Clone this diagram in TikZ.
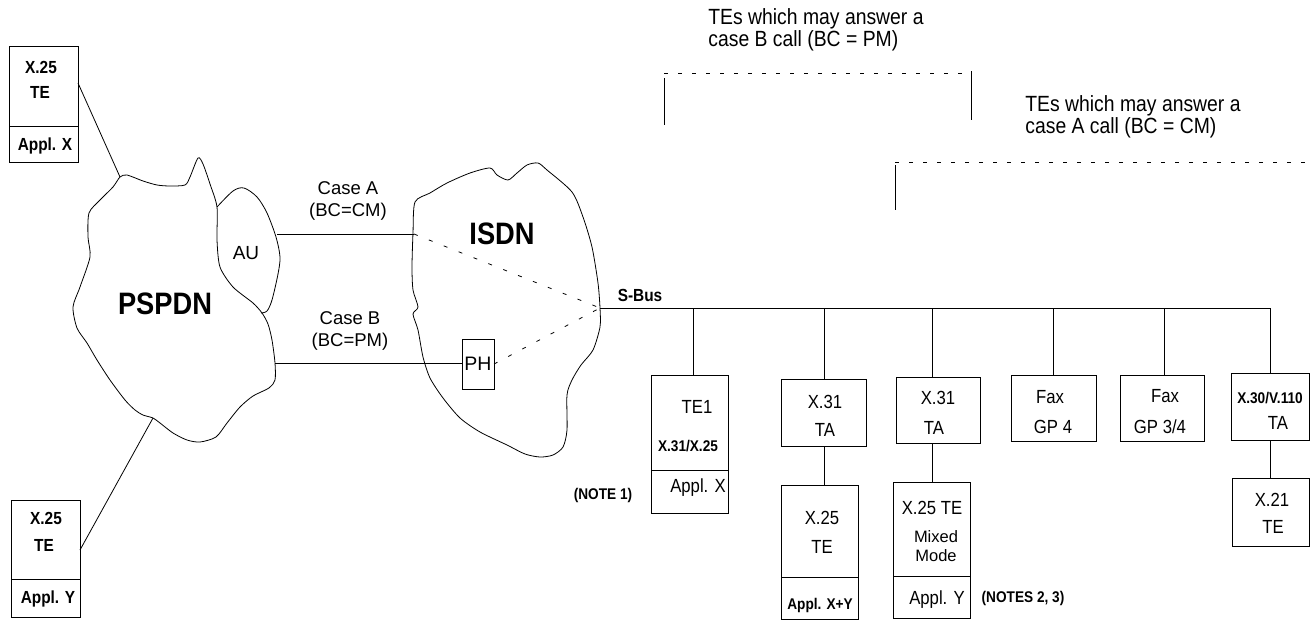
\documentclass[tikz,border=0pt]{standalone}
\usepackage{fontspec}
\setmainfont{Liberation Sans}
\newfontfamily\cf[FakeStretch=0.88]{Liberation Sans}
\begin{document}
\begin{tikzpicture}[x=1pt,y=-1pt,line width=0.8pt,
  box/.style={draw,inner sep=0pt,outer sep=0pt},
  txt/.style={inner sep=0pt,font=\cf\fontsize{19}{22}\selectfont},
  ttl/.style={inner sep=0pt,anchor=west,font=\cf\fontsize{22}{25}\selectfont},
  lbl/.style={inner sep=0pt,font=\fontsize{18.5}{21}\selectfont},
  bsm/.style={inner sep=0pt,font=\cf\bfseries\fontsize{15.5}{18}\selectfont},
  bmd/.style={inner sep=0pt,font=\cf\bfseries\fontsize{17.5}{20}\selectfont},
  big/.style={inner sep=0pt,font=\cf\bfseries\fontsize{31}{35}\selectfont},
  dots/.style={dash pattern=on 4pt off 12pt},
  bdash/.style={dash pattern=on 4pt off 10pt}]
\useasboundingbox (0,0) rectangle (1310,619);

% ---------- PSPDN cloud ----------
\draw plot[smooth cycle,tension=0.45] coordinates {
 (120,177) (127,175) (143,181) (157,185) (170,186) (185,185) (190,177) (198,158)
 (203,164) (210,184) (217,207) (217,240) (220,267) (233,287) (253,303) (262,313)
 (268,324) (272,340) (275,363) (275,380) (269,388) (253,396) (240,407) (227,423)
 (216,437) (200,442) (187,440) (173,433) (160,423) (153,418) (143,415) (135,410)
 (125,400) (110,380) (97,360) (87,343) (77,328) (73,307) (80,287) (90,257)
 (88,237) (89,213) (100,200) (113,187)};
% AU region
\draw plot[smooth,tension=0.5] coordinates {
 (217,207) (233,191) (244,188) (257,197) (267,213) (276,237) (280,257) (278,274)
 (272,300) (267,311) (261,313)};
\coordinate (pTop) at (120,177);
\coordinate (pBot) at (153,418);
\coordinate (auR) at (277,234);
\coordinate (pB) at (275,363);
\node[inner sep=0pt,font=\fontsize{19}{22}\selectfont] (au) at (246,253) {AU};
\node[big] (pspdn) at (165,304) {PSPDN};

% ---------- ISDN cloud ----------
\draw plot[smooth cycle,tension=0.45] coordinates {
 (415,202) (430,193) (447,183) (470,173) (490,168) (497,175) (508,180) (517,173)
 (527,165) (538,163) (547,170) (572,192) (583,217) (592,247) (598,283) (600,308)
 (600,327) (593,350) (581,365) (572,380) (567,395) (567,430) (563,447) (553,455)
 (540,457) (525,454) (507,445) (480,432) (460,418) (443,398) (430,378) (423,357)
 (418,330) (413,314) (418,307) (413,290) (412,267) (413,233)};
\coordinate (iA) at (414,234);
\coordinate (sbus) at (600,308);
\node[big] (isdn) at (502,234) {ISDN};
\node[box,minimum width=32pt,minimum height=50pt] (ph) at (478,364) {};
\node[inner sep=0pt,font=\fontsize{19.5}{22}\selectfont] at (ph.center) {PH};

% case lines
\draw (auR) -- (iA);
\draw (pB) -- (pB -| ph.west);
\node[lbl] (caseA) at (348,188) {Case A};
\node[lbl] at (348,212) {(BC=CM)};
\node[lbl] (caseB) at (350,318) {Case B};
\node[lbl] at (350,342) {(BC=PM)};
\draw[dots] (iA) -- (sbus);
\draw[dots] (ph.east) -- (sbus);

% ---------- left terminals ----------
\node[box,minimum width=69pt,minimum height=116pt] (tl) at (43.5,104) {};
\draw (tl.west |- 0,126) -- (tl.east |- 0,126);
\node[bmd] at (41,67) {X.25};
\node[bmd] at (40,92) {TE};
\node[bmd] at (45,146) {Appl. X};
\draw (tl.east |- 0,83) -- (pTop);

\node[box,minimum width=69pt,minimum height=117pt] (bl) at (45.5,558.5) {};
\draw (bl.west |- 0,579) -- (bl.east |- 0,579);
\node[bmd] at (46,518) {X.25};
\node[bmd] at (44,545) {TE};
\node[bmd] at (48,599) {Appl. Y};
\draw (bl.east |- 0,550) -- (pBot);

% ---------- S-Bus ----------
\coordinate (b1) at (693,308);
\coordinate (b2) at (824,308);
\coordinate (b3) at (932,308);
\coordinate (b4) at (1053,308);
\coordinate (b5) at (1164,308);
\coordinate (b6) at (1270,308);
\draw (sbus) -- (b6);
\node[bmd] (sbl) at (640,295) {S-Bus};

% TE1
\node[box,minimum width=77pt,minimum height=138pt] (te1) at (689.5,444) {};
\draw (te1.west |- 0,470) -- (te1.east |- 0,470);
\node[txt] at (697,407) {TE1};
\node[bsm] at (688,446) {X.31/X.25};
\node[txt] at (698,488) {Appl. X};
\node[bsm] at (603,495) {(NOTE 1)};
\draw (b1) -- (b1 |- te1.north);

% X.31 TA 1 + X.25 TE
\node[box,minimum width=85pt,minimum height=67pt] (ta1) at (823.5,412.5) {};
\node[txt] at (825,402) {X.31};
\node[txt] at (825,430) {TA};
\draw (b2) -- (b2 |- ta1.north);
\node[box,minimum width=77pt,minimum height=134pt] (x25) at (819.5,552) {};
\draw (x25.west |- 0,577) -- (x25.east |- 0,577);
\node[txt] at (822,518) {X.25};
\node[txt] at (822,547) {TE};
\node[bsm] at (820,605) {Appl. X+Y};
\draw (ta1.south -| b2) -- (x25.north -| b2);

% X.31 TA 2 + X.25 TE mixed
\node[box,minimum width=84pt,minimum height=66pt] (ta2) at (938,410) {};
\node[txt] at (938,398) {X.31};
\node[txt] at (934,428) {TA};
\draw (b3) -- (b3 |- ta2.north);
\node[box,minimum width=77pt,minimum height=136pt] (mx) at (931.5,550) {};
\draw (mx.west |- 0,576) -- (mx.east |- 0,576);
\node[txt] at (932,508) {X.25 TE};
\node[inner sep=0pt,font=\fontsize{16.5}{19}\selectfont,align=center] at (936,546) {Mixed\\Mode};
\node[txt] at (937,600) {Appl. Y};
\node[bsm] at (1023,598) {(NOTES 2, 3)};
\draw (ta2.south -| b3) -- (mx.north -| b3);

% Fax GP 4
\node[box,minimum width=85pt,minimum height=66pt] (fax4) at (1053.5,408) {};
\node[txt] at (1050,397) {Fax};
\node[txt] at (1053,427) {GP 4};
\draw (b4) -- (b4 |- fax4.north);

% Fax GP 3/4
\node[box,minimum width=84pt,minimum height=66pt] (fax34) at (1162,408) {};
\node[txt] at (1165,396) {Fax};
\node[txt] at (1160,427) {GP 3/4};
\draw (b5) -- (b5 |- fax34.north);

% X.30/V.110 TA + X.21 TE
\node[box,minimum width=78pt,minimum height=67pt] (ta3) at (1270,406.5) {};
\node[bsm] at (1270,398) {X.30/V.110};
\node[txt] at (1278,423) {TA};
\draw (b6) -- (b6 |- ta3.north);
\node[box,minimum width=77pt,minimum height=68pt] (x21) at (1270.5,512) {};
\node[txt] at (1272,500) {X.21};
\node[txt] at (1273,527) {TE};
\draw (ta3.south -| b6) -- (x21.north -| b6);

% ---------- annotations ----------
\node[ttl] (tB1) at (708,19) {TEs which may answer a};
\node[ttl] (tB2) at (708,41) {case B call (BC = PM)};
\coordinate (bl1) at (664,73);
\coordinate (br1) at (971,73);
\draw[bdash] (bl1) -- (br1);
\draw (664,78) -- (664,125);
\draw (971,71) -- (971,120);

\node[ttl] (tA1) at (1025,106) {TEs which may answer a};
\node[ttl] (tA2) at (1025,128) {case A call (BC = CM)};
\coordinate (bl2) at (895,162);
\coordinate (br2) at (1310,162);
\draw[bdash] (bl2) -- (br2);
\draw (895,165) -- (895,210);
\end{tikzpicture}
\end{document}
